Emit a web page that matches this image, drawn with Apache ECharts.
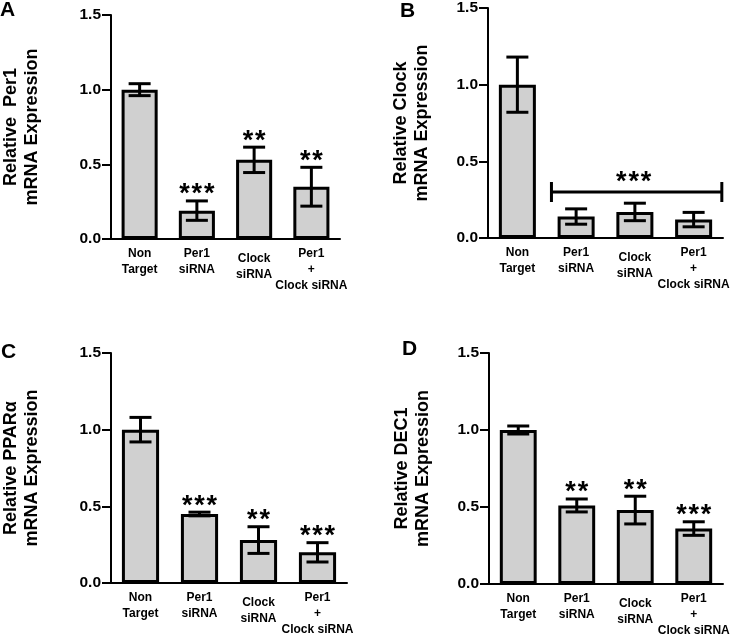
<!DOCTYPE html>
<html>
<head>
<meta charset="utf-8">
<script src="https://cdn.jsdelivr.net/npm/echarts@6/dist/echarts.min.js"></script>
<style>
html,body{margin:0;padding:0;background:#fff;}
#chart{width:750px;height:639px;}
</style>
</head>
<body>
<div id="chart"></div>
<script>
// ---- data ----
var categories = ['Non\nTarget', 'Per1\nsiRNA', 'Clock\nsiRNA', 'Per1\n+\nClock siRNA'];
var yTicks = [0, 0.5, 1.0, 1.5];

var per1Mean = [1.00, 0.19, 0.53, 0.35];
var per1Err  = [0.04, 0.065, 0.085, 0.13];
var per1Sig  = ['', '***', '**', '**'];

var clockMean = [1.00, 0.14, 0.17, 0.12];
var clockErr  = [0.18, 0.05, 0.057, 0.047];
var clockSig  = ['', '', '', ''];
var clockBracket = [[1, 3, 0.30, '***']]; // from category, to category, level, label

var pparMean = [1.00, 0.45, 0.28, 0.20];
var pparErr  = [0.08, 0.012, 0.087, 0.063];
var pparSig  = ['', '***', '**', '***'];

var dec1Mean = [1.00, 0.51, 0.48, 0.36];
var dec1Err  = [0.026, 0.042, 0.09, 0.044];
var dec1Sig  = ['', '**', '**', '***'];

var titles = ['Relative  Per1\nmRNA Expression', 'Relative Clock\nmRNA Expression',
              'Relative PPAR\u03b1\nmRNA Expression', 'Relative DEC1\nmRNA Expression'];
var panelLetters = ['A', 'B', 'C', 'D'];

// ---- styling ----
var FONT = 'Liberation Sans, Arial, Helvetica, sans-serif';
var grids = [
  {left: 109, top: 15, width: 231, height: 224},
  {left: 488, top: 7, width: 235, height: 231},
  {left: 110, top: 353, width: 237, height: 230},
  {left: 489, top: 353, width: 234, height: 231}
];
var nameGaps = [68, 55, 68, 55];

function catData() {
  return categories.map(function (c, i) {
    if (i === 2) return {value: c, textStyle: {padding: [5, 0, 0, 0]}};
    return c;
  });
}

var xAxes = [], yAxes = [], series = [];
grids.forEach(function (g, k) {
  xAxes.push({
    type: 'category', gridIndex: k, data: catData(),
    axisLine: {lineStyle: {color: '#000', width: 2}},
    axisTick: {alignWithLabel: true, length: 6, lineStyle: {color: '#000', width: 2}},
    axisLabel: {color: '#000', fontFamily: FONT, fontWeight: 'bold', fontSize: 12, lineHeight: 16, margin: 7, interval: 0}
  });
  yAxes.push({
    type: 'value', gridIndex: k, min: yTicks[0], max: yTicks[yTicks.length - 1], interval: 0.5,
    splitLine: {show: false},
    axisLine: {show: true, lineStyle: {color: '#000', width: 2}},
    axisTick: {show: true, length: 9, lineStyle: {color: '#000', width: 2}},
    axisLabel: {color: '#000', fontFamily: FONT, fontWeight: 'bold', fontSize: 15.5, margin: 10,
      formatter: function (v) { return v.toFixed(1); }},
    name: titles[k], nameLocation: 'middle', nameRotate: 90, nameGap: nameGaps[k],
    nameTextStyle: {color: '#000', fontFamily: FONT, fontWeight: 'bold', fontSize: 18, lineHeight: 21}
  });
});

function starRow(str, cx, cy) {
  var n = str.length, out = [];
  for (var j = 0; j < n; j++) {
    out.push({type: 'text', style: {text: '*', x: cx + (j - (n - 1) / 2) * 12.3, y: cy,
      align: 'center', verticalAlign: 'middle', fill: '#000', font: 'bold 27px ' + FONT}});
  }
  return out;
}

function errRender(sig) {
  return function (params, api) {
    var i = api.value(0), m = api.value(1), e = api.value(2);
    var top = api.coord([i, m + e]);
    var bot = api.coord([i, m - e]);
    var cap = 11;
    var ls = {stroke: '#000', lineWidth: 3};
    var children = [
      {type: 'line', shape: {x1: top[0], y1: top[1], x2: bot[0], y2: bot[1]}, style: ls},
      {type: 'line', shape: {x1: top[0] - cap, y1: top[1], x2: top[0] + cap, y2: top[1]}, style: ls},
      {type: 'line', shape: {x1: bot[0] - cap, y1: bot[1], x2: bot[0] + cap, y2: bot[1]}, style: ls}
    ];
    if (sig[i]) {
      children = children.concat(starRow(sig[i], top[0], top[1] - 6));
    }
    return {type: 'group', children: children};
  };
}

var sets = [
  [per1Mean, per1Err, per1Sig],
  [clockMean, clockErr, clockSig],
  [pparMean, pparErr, pparSig],
  [dec1Mean, dec1Err, dec1Sig]
];
sets.forEach(function (s, k) {
  series.push({
    type: 'bar', xAxisIndex: k, yAxisIndex: k, data: s[0], barWidth: '63%',
    itemStyle: {color: '#d0d0d0', borderColor: '#000', borderWidth: 3},
    silent: true, animation: false
  });
  series.push({
    type: 'custom', xAxisIndex: k, yAxisIndex: k, clip: false, animation: false, silent: true,
    data: s[0].map(function (m, i) { return [i, m, s[1][i]]; }),
    encode: {x: 0, y: 1},
    renderItem: errRender(s[2]), z: 5
  });
});

// bracket in panel B
series.push({
  type: 'custom', xAxisIndex: 1, yAxisIndex: 1, clip: false, animation: false, silent: true,
  data: clockBracket, encode: {x: [0, 1], y: 2},
  renderItem: function (params, api) {
    var p1 = api.coord([api.value(0), api.value(2)]);
    var p2 = api.coord([api.value(1), api.value(2)]);
    var bw = api.size([1, 0])[0];
    var x1 = p1[0] - 0.42 * bw, x2 = p2[0] + 0.48 * bw, y = p1[1];
    var ls = {stroke: '#000', lineWidth: 3};
    return {type: 'group', children: [
      {type: 'line', shape: {x1: x1, y1: y, x2: x2, y2: y}, style: ls},
      {type: 'line', shape: {x1: x1, y1: y - 10, x2: x1, y2: y + 10}, style: ls},
      {type: 'line', shape: {x1: x2, y1: y - 10, x2: x2, y2: y + 10}, style: ls}
    ].concat(starRow(clockBracket[params.dataIndex][3], (x1 + x2) / 2 - 3, y - 9))};
  }
});

var letterPos = [[0, 0], [400, 1], [1, 342], [402, 339]];
var graphics = panelLetters.map(function (L, k) {
  return {type: 'text', left: letterPos[k][0], top: letterPos[k][1],
    style: {text: L, font: 'bold 21px ' + FONT, fill: '#000'}};
});

var chart = echarts.init(document.getElementById('chart'), null, {renderer: 'canvas'});
chart.setOption({
  backgroundColor: '#fff',
  animation: false,
  grid: grids,
  xAxis: xAxes,
  yAxis: yAxes,
  series: series,
  graphic: graphics
});
</script>
</body>
</html>
